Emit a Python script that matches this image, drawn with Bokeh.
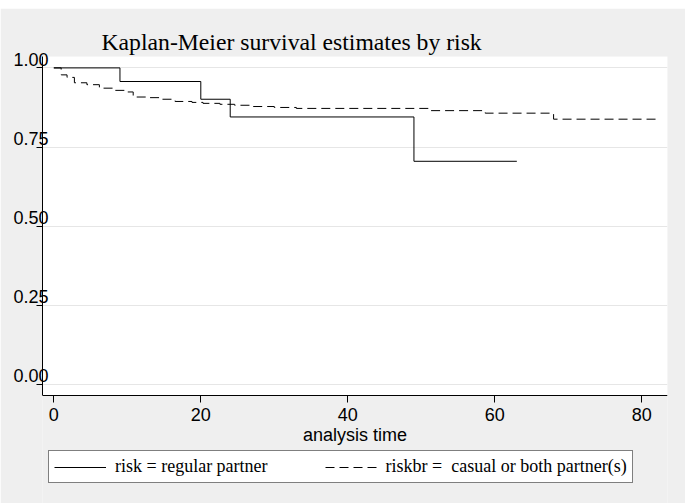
from bokeh.plotting import figure
from bokeh.models import (Range1d, FixedTicker, Legend, LegendItem,
                          ColumnDataSource, BoxAnnotation)
from bokeh.embed import file_html
from bokeh.resources import INLINE

# Kaplan-Meier survival estimates (step functions), group: risk = regular partner
reg_time = [0, 9, 20, 24, 49, 63]
reg_surv = [1.0, 0.957, 0.901, 0.845, 0.705, 0.705]

# group: riskbr = casual or both partner(s)
cas_time = [0, 1, 1.8, 2.8, 4.5, 6.2, 8, 9.6, 10.8, 13, 14.5, 16.5, 18.8, 20.3,
            22.6, 24.6, 27, 30, 33, 51, 58.7, 68, 82]
cas_surv = [1.0, 0.978, 0.970, 0.953, 0.947, 0.936, 0.929, 0.924, 0.908, 0.906,
            0.901, 0.894, 0.891, 0.888, 0.885, 0.882, 0.878, 0.875, 0.872, 0.865,
            0.857, 0.838, 0.838]

x_ticks = [0, 20, 40, 60, 80]
y_ticks = [0.0, 0.25, 0.5, 0.75, 1.0]
y_tick_labels = ["0.00", "0.25", "0.50", "0.75", "1.00"]

title_text = "Kaplan-Meier survival estimates by risk"
x_label = "analysis time"
series_labels = ["risk = regular partner", "riskbr =  casual or both partner(s)"]

BG = "#efefef"

# plotting region limits; the frame continues below the x axis to hold the legend
X0, X1 = -1.54, 83.5
Y_BOTTOM, Y_TOP = -0.0348, 1.036
Y_FRAME_BOTTOM = -0.376

p = figure(frame_width=625, frame_height=447, output_backend="svg",
           toolbar_location=None,
           x_range=Range1d(X0, X1), y_range=Range1d(Y_FRAME_BOTTOM, Y_TOP),
           min_border_left=42, min_border_right=18, min_border_top=48,
           min_border_bottom=0, background_fill_color=BG,
           border_fill_color=BG, outline_line_color=None)
p.margin = (8, 3, 0, 0)

# white plotting region, drawn beneath the grid lines
p.add_layout(BoxAnnotation(left=X0, right=X1, bottom=Y_BOTTOM, top=Y_TOP,
                           fill_color="white", fill_alpha=1.0, line_color=None,
                           level="image"))

# title
p.title.text = title_text
p.title.text_font = "Liberation Serif"
p.title.text_font_size = "23.7px"
p.title.text_font_style = "normal"
p.title.text_color = "black"
p.title.align = "left"
p.title.offset = 59
p.title.standoff = 3

# survival curves
src_reg = ColumnDataSource(dict(t=reg_time, s=reg_surv))
src_cas = ColumnDataSource(dict(t=cas_time, s=cas_surv))
r_reg = p.step("t", "s", source=src_reg, mode="after", line_color="black", line_width=1)
r_cas = p.step("t", "s", source=src_cas, mode="after", line_color="black",
               line_width=1, line_dash="9 5")

# y axis: labels sit just above their tick marks (trailing empty line lifts them)
yax = p.yaxis[0]
yax.ticker = FixedTicker(ticks=y_ticks)
yax.bounds = (Y_BOTTOM, Y_TOP)
yax.major_label_overrides = {v: s + "\n" for v, s in zip(y_ticks, y_tick_labels)}
yax.major_tick_out = 6
yax.major_tick_in = 0
yax.minor_tick_out = 0
yax.minor_tick_in = 0
yax.major_label_standoff = -12
yax.major_label_text_font = "Liberation Sans"
yax.major_label_text_font_size = "18px"
yax.major_label_text_line_height = 0.8
yax.major_label_text_color = "black"
yax.axis_line_color = "black"
yax.major_tick_line_color = "black"

# x axis, drawn at the bottom edge of the plotting region
xax = p.xaxis[0]
xax.fixed_location = Y_BOTTOM
xax.ticker = FixedTicker(ticks=x_ticks)
xax.major_tick_out = 7
xax.major_tick_in = 0
xax.minor_tick_out = 0
xax.minor_tick_in = 0
xax.major_label_standoff = 6
xax.major_label_text_font = "Liberation Sans"
xax.major_label_text_font_size = "18px"
xax.major_label_text_color = "black"
xax.axis_label = x_label
xax.axis_label_text_font = "Liberation Sans"
xax.axis_label_text_font_size = "18px"
xax.axis_label_text_font_style = "normal"
xax.axis_label_text_color = "black"
xax.axis_label_standoff = 0
xax.axis_line_color = "black"
xax.major_tick_line_color = "black"

# grid
p.xgrid.visible = False
p.ygrid.ticker = FixedTicker(ticks=y_ticks)
p.ygrid.grid_line_color = "#e6e6e6"
p.ygrid.grid_line_width = 1

# legend, offset in pixels from the frame's lower-left corner
legend = Legend(
    items=[LegendItem(label=series_labels[0], renderers=[r_reg]),
           LegendItem(label=series_labels[1], renderers=[r_cas])],
    orientation="horizontal", location=(6, 20),
    border_line_color="black", border_line_width=1,
    background_fill_color="white", background_fill_alpha=1.0,
    label_text_font="Liberation Serif", label_text_font_size="18px",
    label_text_color="black",
    glyph_width=52, glyph_height=20, label_standoff=9, spacing=57,
    padding=5, margin=0)
p.add_layout(legend, "center")

open("out.html", "w").write(file_html(p, INLINE))
